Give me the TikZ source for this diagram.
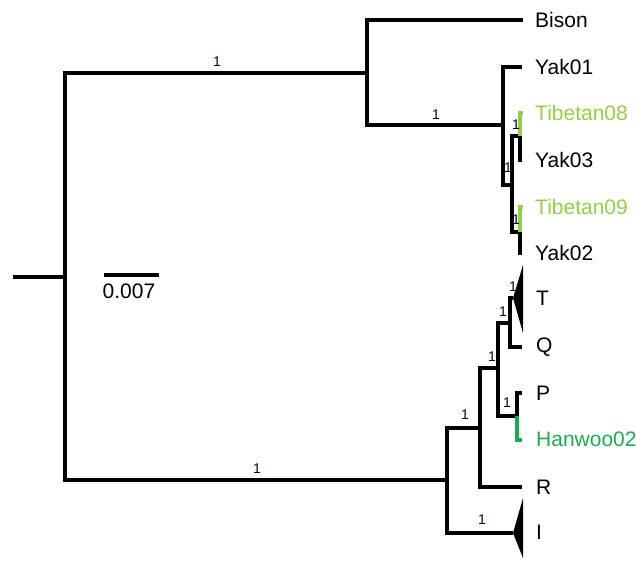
\documentclass[tikz,border=0pt]{standalone}
\usepackage{fontspec}
\setmainfont{Liberation Sans}
\definecolor{tibgreen}{RGB}{150,205,70}
\definecolor{hangreen}{RGB}{30,170,80}
\begin{document}
\begin{tikzpicture}[x=1pt,y=-1pt,
  br/.style={line width=3.2pt, line join=miter},
  leaflab/.style={anchor=west, inner sep=0pt, font=\fontsize{21}{24}\selectfont},
  supp/.style={inner sep=0pt, font=\fontsize{14}{16}\selectfont, text=black!85!blue}]
\useasboundingbox (0,0) rectangle (636,563);
% coordinates
\coordinate (r) at (13,277);
\coordinate (n0) at (65,277);
\coordinate (n1) at (367,73);
\coordinate (bison) at (523,20);
\coordinate (n2) at (503,125);
\coordinate (yak01) at (522,67);
\coordinate (n3) at (512,185);
\coordinate (n4) at (520,136);
\coordinate (tib08) at (523,113);
\coordinate (yak03) at (522,160);
\coordinate (n5) at (520,232);
\coordinate (tib09) at (523,207);
\coordinate (yak02) at (522,253);
\coordinate (m1) at (447,480);
\coordinate (m2) at (480,428);
\coordinate (iapex) at (513,533);
\coordinate (ia) at (523,498);
\coordinate (ib) at (523,558);
\coordinate (m3) at (498,368);
\coordinate (rtip) at (522,487);
\coordinate (m4) at (510,323);
\coordinate (m5) at (517,416);
\coordinate (tapex) at (513,298);
\coordinate (ta) at (523,265);
\coordinate (tb) at (523,333);
\coordinate (qtip) at (522,347);
\coordinate (ptip) at (522,393);
\coordinate (hantip) at (522,440);
\coordinate (sb1) at (104,275);
\coordinate (sb2) at (159,275);
% branches
\draw[br] (r) -- (n0);
\draw[br] (n0) |- (n1);
\draw[br] (n0) |- (m1);
\draw[br] (n1) |- (bison);
\draw[br] (n1) |- (n2);
\draw[br] (n2) |- (yak01);
\draw[br] (n2) |- (n3);
\draw[br] (n3) |- (n4);
\draw[br] (n3) |- (n5);
\draw[br,tibgreen] (n4) |- (tib08);
\draw[br] (n4) |- (yak03);
\draw[br,tibgreen] (n5) |- (tib09);
\draw[br] (n5) |- (yak02);
\draw[br] (m1) |- (m2);
\draw[br] (m1) |- (iapex);
\draw[br] (m2) |- (m3);
\draw[br] (m2) |- (rtip);
\draw[br] (m3) |- (m4);
\draw[br] (m3) |- (m5);
\draw[br] (m4) |- (tapex);
\draw[br] (m4) |- (qtip);
\draw[br] (m5) |- (ptip);
\draw[br,hangreen] (m5) |- (hantip);
\fill (tapex) -- (ta) -- (tb) -- cycle;
\fill (iapex) -- (ia) -- (ib) -- cycle;
% leaf labels
\node[leaflab] (Lbison) at (535,20) {Bison};
\node[leaflab] (Lyak01) at (535,67) {Yak01};
\node[leaflab,text=tibgreen] (Ltib08) at (535,113) {Tibetan08};
\node[leaflab] (Lyak03) at (535,160) {Yak03};
\node[leaflab,text=tibgreen] (Ltib09) at (535,207) {Tibetan09};
\node[leaflab] (Lyak02) at (535,253) {Yak02};
\node[leaflab] (LT) at (536,298) {T};
\node[leaflab] (LQ) at (536,347) {Q};
\node[leaflab] (LP) at (536,393) {P};
\node[leaflab,text=hangreen] (Lhan) at (536,439) {Hanwoo02};
\node[leaflab] (LR) at (536,487) {R};
\node[leaflab] (LI) at (536,532) {I};
% support values
\node[supp] (s1) at (217,62) {1};
\node[supp] (s2) at (436,115) {1};
\node[supp] (s3) at (516,125) {1};
\node[supp] (s4) at (508,168) {1};
\node[supp] (s5) at (516,220) {1};
\node[supp] (s6) at (257,469) {1};
\node[supp] (s7) at (465,415) {1};
\node[supp] (s8) at (492,357) {1};
\node[supp] (s9) at (503,312) {1};
\node[supp] (s10) at (513,287) {1};
\node[supp] (s11) at (507,403) {1};
\node[supp] (s12) at (482,520) {1};
% scale bar
\draw[br] (sb1) -- (sb2);
\node[inner sep=0pt, font=\fontsize{21}{24}\selectfont] (sbl) at (129,291) {0.007};
\end{tikzpicture}
\end{document}
